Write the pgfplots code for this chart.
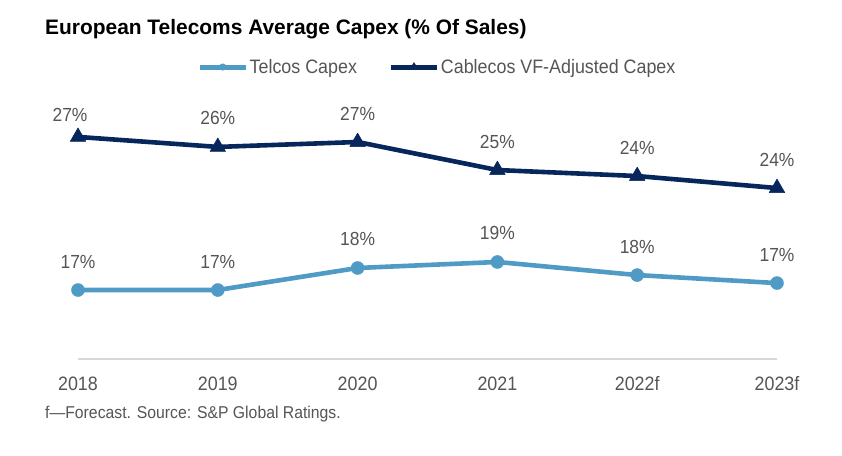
\documentclass[border=0pt]{standalone}
\usepackage{pgfplots}
\pgfplotsset{compat=1.18}
\usepackage{fontspec}
\setmainfont{Liberation Sans}[FakeStretch=0.92]
\newfontfamily\titlefont{Liberation Sans}
\definecolor{telco}{RGB}{80,155,198}
\definecolor{cable}{RGB}{6,38,92}
\definecolor{txt}{RGB}{85,85,85}
\definecolor{axisgray}{RGB}{215,215,215}
\begin{document}
\begin{tikzpicture}
\path[use as bounding box] (0bp,0bp) rectangle (842bp,-456bp);
\node[anchor=base west, inner sep=0pt, font=\titlefont\bfseries\fontsize{21}{24}\selectfont] at (45bp,-34.7bp) {European Telecoms Average Capex (\% Of Sales)};
\node[anchor=base west, inner sep=0pt, text=txt, font=\fontsize{17.2}{20}\selectfont] at (45bp,-418bp) {f—Forecast. Source: S\&P Global Ratings.};
\begin{axis}[
  at={(78bp,-359bp)}, anchor=south west,
  scale only axis, width=699bp, height=238.4bp,
  xmin=0, xmax=5, ymin=12.52, ymax=28,
  axis x line*=bottom, axis y line=none,
  x axis line style={axisgray, line width=1.5bp},
  xtick={0,1,2,3,4,5},
  xticklabels={2018,2019,2020,2021,2022f,2023f},
  major tick length=0pt,
  xticklabel style={anchor=base, yshift=-31bp, inner sep=0pt, text=txt, font=\fontsize{19.5}{22}\selectfont},
  clip=false,
  /pgf/number format/assume math mode=true,
  legend columns=2,
  legend style={draw=none, fill=none, at={(0.1702,1.2248)}, anchor=west, inner sep=0pt,
    font=\fontsize{19.5}{22}\selectfont, text=txt, nodes={inner sep=1.5bp},
    /tikz/every even column/.append style={column sep=30bp}},
  legend image code/.code={\draw[mark repeat=2, mark phase=2, #1, line width=5bp, every mark/.append style={scale=0.5}] plot coordinates {(0bp,0bp) (23bp,0bp) (46bp,0bp)};},
  every node near coord/.append style={anchor=base, inner sep=0pt, text=txt, font=\fontsize{19}{22}\selectfont},
]
\addplot[telco, line width=4.6bp, line join=round, mark=*, mark size=6.5bp, mark options={line width=0.5bp, fill=telco}] table {
x y
0 17.00
1 17.00
2 18.43
3 18.82
4 17.97
5 17.45
};
\addlegendentry{Telcos Capex}
\addplot[cable, line width=4.6bp, line join=round, mark=triangle*, mark size=9bp, mark options={line width=0.5bp, fill=cable}] table {
x y
0 26.94
1 26.29
2 26.61
3 24.79
4 24.40
5 23.62
};
\addlegendentry{Cablecos VF-Adjusted Capex}
% value labels
\addplot[forget plot, draw=none, mark=none, point meta=y,
  nodes near coords={\pgfmathprintnumber[fixed,precision=0]{\pgfplotspointmeta}\%},
  every node near coord/.append style={yshift=22bp}] table {
x y
0 17.00
1 17.00
2 18.43
3 18.82
4 17.97
5 17.45
};
\addplot[forget plot, draw=none, mark=none, point meta=y,
  nodes near coords={\pgfmathprintnumber[fixed,precision=0]{\pgfplotspointmeta}\%},
  every node near coord/.append style={yshift=22bp}] table {
x y
1 26.29
2 26.61
3 24.79
4 24.40
5 23.62
};
\addplot[forget plot, draw=none, mark=none, point meta=y,
  nodes near coords={\pgfmathprintnumber[fixed,precision=0]{\pgfplotspointmeta}\%},
  every node near coord/.append style={yshift=15bp, xshift=-8bp}] table {
x y
0 26.94
};
\end{axis}
\end{tikzpicture}
\end{document}
